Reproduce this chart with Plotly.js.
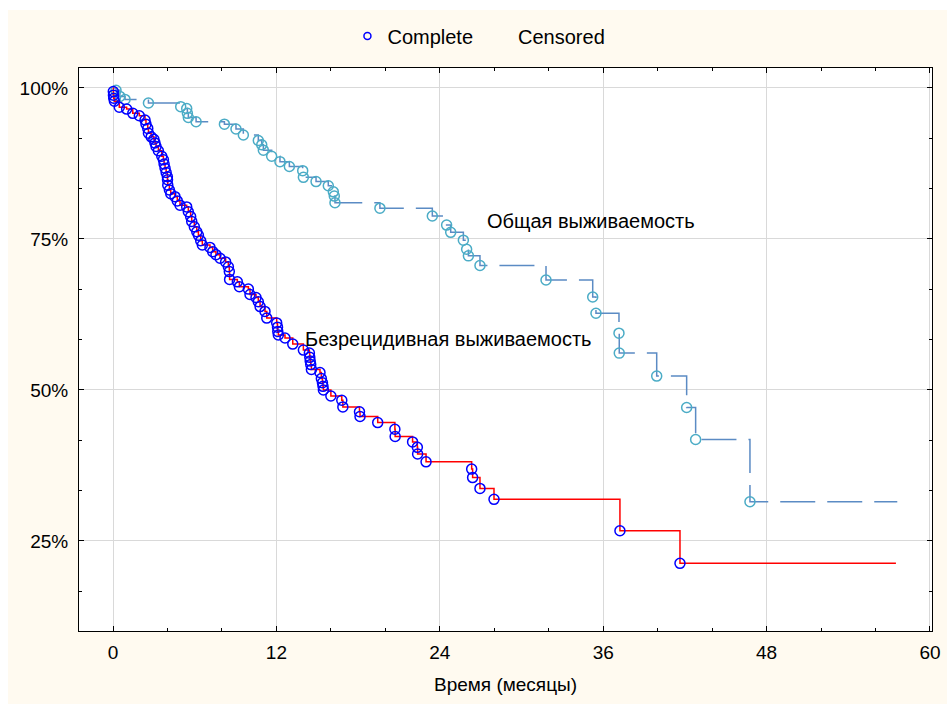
<!DOCTYPE html>
<html>
<head>
<meta charset="utf-8">
<script src="https://cdn.plot.ly/plotly-3.0.1.min.js"></script>
<style>html,body{margin:0;padding:0;background:#fff;}#chart{width:947px;height:704px;}</style>
</head>
<body>
<div id="chart"></div>
<script>
// ---- Data ----
const xTickVals = [0, 12, 24, 36, 48, 60];
const yTickVals = [25, 50, 75, 100];
const yTickText = ['25%', '50%', '75%', '100%'];
const legendNames = ['Complete', 'Censored'];
const curveLabels = ['Общая выживаемость', 'Безрецидивная выживаемость'];
const xTitle = 'Время (месяцы)';

// Relapse-free survival (Безрецидивная выживаемость): event times (months) and survival (%)
const rfsTimes = [0.02, 0.03, 0.05, 0.10, 0.46, 1.00, 1.45, 1.93, 2.35, 2.42, 2.55, 2.60, 2.80, 3.00, 3.08, 3.16, 3.33, 3.58, 3.70, 3.75,
  3.82, 3.90, 3.99, 4.00, 4.02, 4.14, 4.24, 4.55, 4.72, 4.92, 5.41, 5.53, 5.70, 5.78, 5.97, 6.15, 6.27, 6.44, 6.56, 7.12,
  7.32, 7.56, 7.86, 8.27, 8.47, 8.54, 8.56, 9.13, 9.28, 9.94, 10.06, 10.50, 10.67, 10.80, 11.16, 11.29, 12.02, 12.08, 12.10, 12.14,
  12.63, 13.20, 13.98, 14.42, 14.45, 14.48, 14.52, 14.57, 15.20, 15.30, 15.38, 15.42, 15.45, 16.00, 16.80, 16.88, 18.10, 18.14, 19.44, 20.70,
  20.72, 22.00, 22.35, 22.37, 22.99, 26.34, 26.41, 26.95, 27.98, 37.23, 41.64];
const rfsSurv = [99.4, 98.8, 98.3, 97.8, 96.8, 96.5, 95.8, 95.4, 94.7, 94.0, 93.3, 92.5, 91.9, 91.5, 90.9, 90.3, 89.6, 88.7, 88.1, 87.4,
  86.7, 86.0, 85.3, 84.8, 83.9, 83.1, 82.5, 82.0, 81.3, 80.6, 80.3, 79.5, 78.7, 77.9, 77.0, 76.2, 75.6, 74.7, 74.0, 73.6,
  72.9, 72.4, 71.8, 71.2, 70.4, 69.6, 68.3, 67.9, 67.1, 66.7, 65.8, 65.3, 64.6, 63.8, 63.0, 61.9, 61.1, 60.4, 59.7, 59.1,
  58.6, 57.6, 56.6, 56.1, 55.4, 54.8, 54.2, 53.4, 52.9, 51.9, 51.2, 50.6, 50.0, 49.0, 48.3, 47.2, 46.4, 45.6, 44.6, 43.5,
  42.3, 41.4, 40.5, 39.4, 38.1, 36.9, 35.5, 33.7, 31.9, 26.7, 21.3];
const rfsLastFollowUp = 57.5;

// Overall survival (Общая выживаемость)
const osTimes = [0.22, 0.50, 0.88, 2.60, 4.97, 5.41, 5.46, 5.53, 6.10, 8.18, 9.03, 9.57, 10.67, 10.92, 11.04, 11.65, 12.26, 12.95, 13.93, 13.98,
  14.91, 15.81, 16.18, 16.25, 16.30, 19.60, 23.45, 24.50, 24.80, 25.73, 25.97, 26.10, 26.95, 31.80, 35.23, 35.47, 37.16, 37.18, 39.93, 42.13,
  42.79, 46.78];
const osSurv = [99.6, 98.6, 98.1, 97.5, 96.9, 96.6, 95.8, 95.1, 94.4, 94.0, 93.2, 92.2, 91.3, 90.6, 89.7, 88.7, 87.8, 87.0, 86.3, 85.2,
  84.5, 83.8, 82.8, 82.1, 81.0, 80.1, 78.8, 77.3, 76.1, 74.8, 73.3, 72.2, 70.6, 68.2, 65.4, 62.7, 59.4, 56.1, 52.3, 47.1,
  41.8, 31.5];
const osLastFollowUp = 57.6;

// ---- Build traces ----
const font = 'Liberation Sans, Arial, sans-serif';
function stepLine(times, surv, last, color, dash) {
  return {
    x: [0].concat(times, [last]),
    y: [100].concat(surv, [surv[surv.length - 1]]),
    mode: 'lines', type: 'scatter', showlegend: false, hoverinfo: 'skip',
    line: {shape: 'hv', color: color, width: 1.5, dash: dash}
  };
}
function eventMarkers(times, surv, color) {
  return {
    x: times, y: surv, mode: 'markers', type: 'scatter', showlegend: false,
    marker: {symbol: 'circle-open', size: 10, color: color, line: {width: 1.5, color: color}}
  };
}
const traces = [
  stepLine(osTimes, osSurv, osLastFollowUp, '#5b8bc4', '35px,12px'),
  eventMarkers(osTimes, osSurv, '#4bacc6'),
  stepLine(rfsTimes, rfsSurv, rfsLastFollowUp, '#ff0000', 'solid'),
  eventMarkers(rfsTimes, rfsSurv, '#0000ff'),
  {x: [null], y: [null], mode: 'markers', type: 'scatter', name: legendNames[0], showlegend: true,
   marker: {symbol: 'circle-open', size: 7, color: '#0000ff', line: {width: 1.5, color: '#0000ff'}}},
  {x: [null], y: [null], mode: 'markers', type: 'scatter', name: legendNames[1], showlegend: true,
   marker: {symbol: 'circle', size: 7, color: 'rgba(0,0,0,0)'}}
];

const layout = {
  width: 947, height: 704,
  margin: {l: 79, r: 15, t: 68, b: 73},
  paper_bgcolor: '#fffaf0', plot_bgcolor: '#ffffff',
  font: {family: font, size: 19, color: '#000'},
  showlegend: true,
  legend: {orientation: 'h', x: 0.3147, xanchor: 'left', y: 1.057, yanchor: 'middle',
           bgcolor: 'rgba(0,0,0,0)', font: {family: font, size: 20, color: '#000'}},
  xaxis: {
    range: [-2.5, 60.15], tickvals: xTickVals, ticktext: xTickVals.map(String),
    showgrid: true, gridcolor: '#d9d9d9', gridwidth: 1, zeroline: false,
    showline: true, linecolor: '#000', linewidth: 1, mirror: 'ticks',
    ticks: 'inside', ticklen: 5, tickcolor: '#000', ticklabelstandoff: 4,
    minor: {dtick: 4, tick0: 0, ticks: 'inside', ticklen: 3, tickcolor: '#000', showgrid: false},
    title: {text: xTitle, font: {family: font, size: 19}, standoff: 15},
    tickfont: {family: font, size: 19}
  },
  yaxis: {
    range: [10.1, 103.3], tickvals: yTickVals, ticktext: yTickText,
    showgrid: true, gridcolor: '#d9d9d9', gridwidth: 1, zeroline: false,
    showline: true, linecolor: '#000', linewidth: 1, mirror: 'ticks',
    ticks: 'inside', ticklen: 5, tickcolor: '#000', ticklabelstandoff: 6,
    minor: {dtick: 25 / 3, tick0: 0, ticks: 'inside', ticklen: 3, tickcolor: '#000', showgrid: false},
    tickfont: {family: font, size: 19}
  },
  annotations: [
    {x: 27.35, y: 78.0, xref: 'x', yref: 'y', text: curveLabels[0], showarrow: false,
     xanchor: 'left', yanchor: 'middle', font: {family: font, size: 20, color: '#000'}},
    {x: 13.95, y: 58.4, xref: 'x', yref: 'y', text: curveLabels[1], showarrow: false,
     xanchor: 'left', yanchor: 'middle', font: {family: font, size: 20, color: '#000'}}
  ],
  shapes: [
    {type: 'rect', xref: 'paper', yref: 'paper', x0: -0.12, x1: 1.12, y0: 1.1030, y1: 1.14,
     fillcolor: '#ffffff', line: {width: 0}, layer: 'above'},
    {type: 'rect', xref: 'paper', yref: 'paper', x0: -0.12, x1: -0.0832, y0: -0.15, y1: 1.14,
     fillcolor: '#ffffff', line: {width: 0}, layer: 'above'}
  ]
};

Plotly.newPlot('chart', traces, layout, {displayModeBar: false, staticPlot: true});
</script>
</body>
</html>
